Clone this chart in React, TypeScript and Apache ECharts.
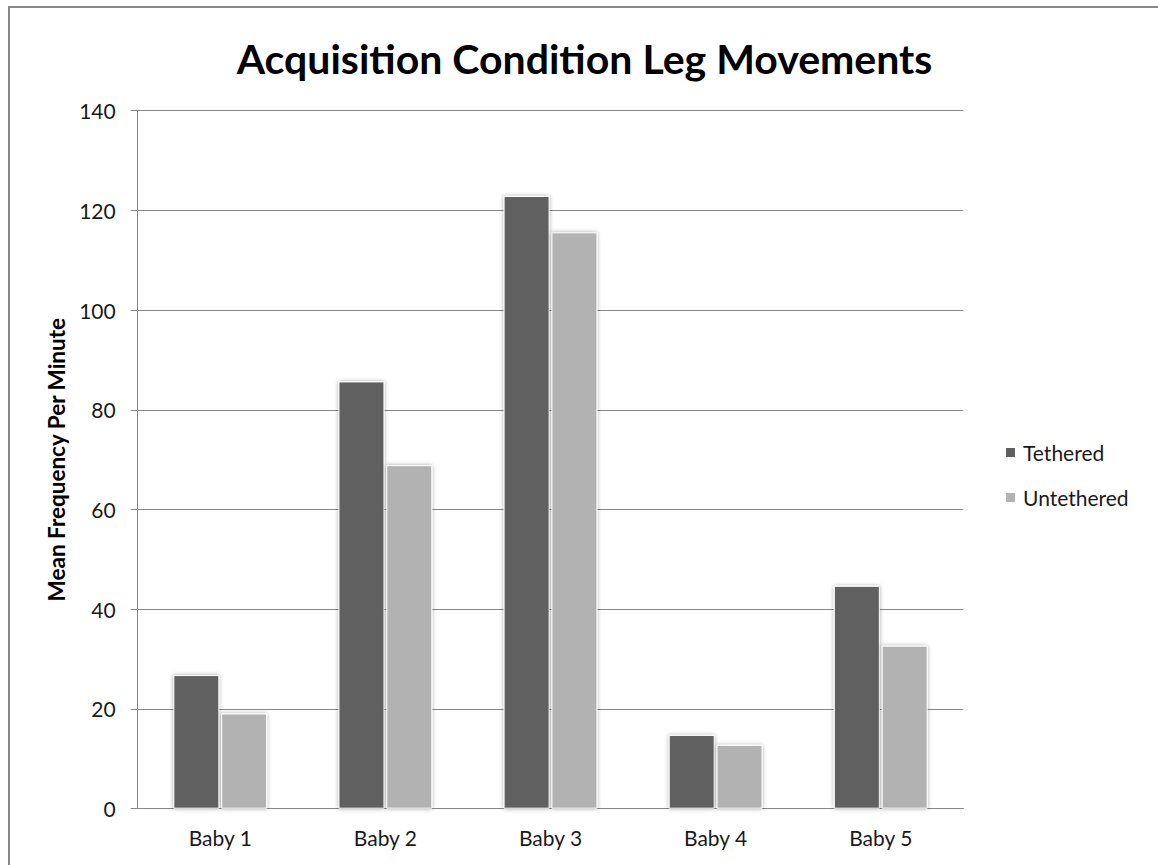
import React, { useEffect, useRef } from "react";
import * as echarts from "echarts";

const categories = ["Baby 1", "Baby 2", "Baby 3", "Baby 4", "Baby 5"];
const tethered = [26.8, 85.7, 122.9, 14.8, 44.7];
const untethered = [19.1, 68.9, 115.6, 12.8, 32.7];
const seriesNames = ["Tethered", "Untethered"];
const titleText = "Acquisition Condition Leg Movements";
const yAxisName = "Mean Frequency Per Minute";

export default function App() {
  const ref = useRef<HTMLDivElement>(null);
  useEffect(() => {
    if (!ref.current) return;
    const chart = echarts.init(ref.current, undefined, { renderer: "svg" });
    const font = "Lato, 'Open Sans', sans-serif";
    const barStyle = (color: string) => ({
      color,
      borderColor: "#ffffff",
      borderWidth: 1,
      shadowBlur: 4,
      shadowColor: "rgba(0,0,0,0.35)",
    });
    chart.setOption({
      animation: false,
      backgroundColor: "#ffffff",
      title: {
        text: titleText,
        left: 584.5,
        textAlign: "center",
        top: 38,
        padding: 0,
        textStyle: { fontFamily: font, fontWeight: "bold", fontSize: 41, color: "#000000" },
      },
      graphic: [
        {
          type: "rect",
          shape: { x: 9, y: 7, width: 1200, height: 900 },
          style: { fill: "none", stroke: "#878787", lineWidth: 2 },
          silent: true,
        },
      ],
      legend: {
        orient: "vertical",
        left: 1004,
        top: 442,
        padding: 0,
        itemWidth: 11,
        itemHeight: 11,
        itemGap: 24,
        icon: "rect",
        textStyle: { fontFamily: font, fontSize: 21, color: "#1a1a1a", padding: [0, 0, 0, 2] },
        data: seriesNames,
      },
      grid: { left: 137.7, right: 194.7, top: 110.7, bottom: 56.3 },
      xAxis: {
        type: "category",
        data: categories,
        axisLine: { lineStyle: { color: "#868686", width: 1 } },
        axisTick: { show: false },
        axisLabel: { fontFamily: font, fontSize: 21, color: "#1a1a1a", margin: 18 },
      },
      yAxis: {
        type: "value",
        min: 0,
        max: 140,
        interval: 20,
        name: yAxisName,
        nameLocation: "middle",
        nameGap: 68,
        nameTextStyle: { fontFamily: font, fontWeight: "bold", fontSize: 22.5, color: "#000000" },
        axisLine: { show: true, lineStyle: { color: "#868686", width: 1 } },
        axisTick: { show: true, length: 7, lineStyle: { color: "#868686" } },
        splitLine: { lineStyle: { color: "#868686", width: 1 } },
        axisLabel: { fontFamily: font, fontSize: 21, color: "#1a1a1a", margin: 22 },
      },
      series: [
        {
          name: seriesNames[0],
          type: "bar",
          data: tethered,
          barWidth: 46,
          barGap: "4%",
          itemStyle: barStyle("#606060"),
        },
        {
          name: seriesNames[1],
          type: "bar",
          data: untethered,
          barWidth: 46,
          barGap: "4%",
          itemStyle: barStyle("#b2b2b2"),
        },
      ],
    });
    return () => chart.dispose();
  }, []);
  return (
    <div
      ref={ref}
      style={{ position: "absolute", left: 0, top: 0, width: 1158, height: 865, background: "#fff" }}
    />
  );
}
